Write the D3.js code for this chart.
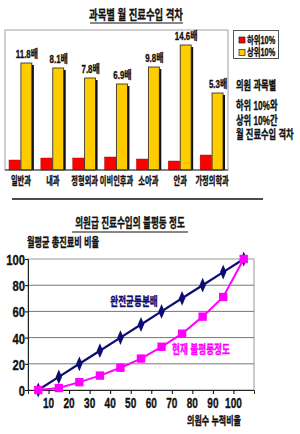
<!DOCTYPE html>
<html>
<head>
<meta charset="utf-8">
<script src="https://cdn.jsdelivr.net/npm/d3@7"></script>
<style>
  body { margin: 0; background: #fff; }
  svg { display: block; }
  text { font-family: "Liberation Sans", "Noto Sans CJK KR", sans-serif; font-weight: bold; fill: #111; }
</style>
</head>
<body>
<svg id="chart" width="300" height="434"></svg>
<script>
// 과목별 월 진료수입 (하위10% / 상위10%), relative heights
var categories = ["일반과", "내과", "정형외과", "이비인후과", "소아과", "안과", "가정의학과"];
var lower10 = [10, 12, 12, 13, 11, 9, 15];
var upper10 = [107, 102, 92, 86, 103, 125, 77];
var gapRatio = [11.8, 8.1, 7.8, 6.9, 9.8, 14.6, 5.3];
var seriesNames = ["하위10%", "상위10%"];
var seriesColors = ["#ff0000", "#ffcc00"];

// 의원급 진료수입의 불평등 정도
var cumDoctors = [5, 15, 25, 35, 45, 55, 65, 75, 85, 95, 105];
var equalShare = [0, 10, 20, 30, 40, 50, 60, 70, 80, 90, 100];
var currentShare = [0, 1.5, 6, 11, 17, 24, 33, 43, 56, 71, 100];
var xTicks = [10, 20, 30, 40, 50, 60, 70, 80, 90, 100];
var yTicks = [0, 20, 40, 60, 80, 100];

var svg = d3.select("#chart");

// text helper: condensed, heavy look via horizontal scale + thin stroke
function label(g, x, y, txt, size, anchor, sx, color) {
  return g.append("text")
    .attr("transform", "translate(" + x + "," + y + ") scale(" + (sx || 0.75) + ",1)")
    .attr("text-anchor", anchor || "start")
    .attr("dominant-baseline", "central")
    .style("font-size", size + "px")
    .style("fill", color || "#111")
    .style("stroke", color || "#111")
    .style("stroke-width", 0.35)
    .text(txt);
}

/* ---------- top: bar chart ---------- */
var barG = svg.append("g");
label(barG, 136, 14, "과목별 월 진료수입 격차", 13, "middle", 0.72);
barG.append("line").attr("x1", 90).attr("x2", 183).attr("y1", 23).attr("y2", 23)
  .attr("stroke", "#111").attr("stroke-width", 1.2);

var x0 = d3.scaleBand().domain(categories).range([5, 228]).paddingInner(0.25).paddingOuter(0.125);
var x1 = d3.scaleBand().domain(seriesNames).range([0, x0.bandwidth()]);
var y0 = d3.scaleLinear().domain([0, 140]).range([170, 30]);

barG.append("rect").attr("x", 5).attr("y", 30).attr("width", 223).attr("height", 140)
  .attr("fill", "#fff").attr("stroke", "#a0a0a0");

var groups = barG.selectAll(".grp").data(categories).enter().append("g")
  .attr("transform", function(d) { return "translate(" + x0(d) + ",0)"; });

// lower 10%
groups.append("rect")
  .attr("x", x1(seriesNames[0]))
  .attr("y", function(d, i) { return y0(lower10[i]); })
  .attr("width", x1.bandwidth() - 0.5)
  .attr("height", function(d, i) { return y0(0) - y0(lower10[i]); })
  .attr("fill", seriesColors[0]).attr("stroke", "#900").attr("stroke-width", 0.4);

// upper 10% with shadow
groups.append("rect")
  .attr("x", x1(seriesNames[1]) + 2)
  .attr("y", function(d, i) { return y0(upper10[i]) + 2; })
  .attr("width", x1.bandwidth() - 1)
  .attr("height", function(d, i) { return y0(0) - y0(upper10[i]) - 2; })
  .attr("fill", "#111");
groups.append("rect")
  .attr("x", x1(seriesNames[1]))
  .attr("y", function(d, i) { return y0(upper10[i]); })
  .attr("width", x1.bandwidth() - 1)
  .attr("height", function(d, i) { return y0(0) - y0(upper10[i]); })
  .attr("fill", seriesColors[1]).attr("stroke", "#222").attr("stroke-width", 0.8);

groups.each(function(d, i) {
  var g = d3.select(this);
  label(g, x1(seriesNames[1]) + x1.bandwidth() / 2, y0(upper10[i]) - 9, gapRatio[i] + "배", 11, "middle", 0.72);
  label(g, x0.bandwidth() / 2, 181, d, 11, "middle", 0.66);
});

barG.append("line").attr("x1", 5).attr("x2", 228).attr("y1", 170).attr("y2", 170)
  .attr("stroke", "#333").attr("stroke-width", 1);

// legend
var lg = barG.append("g");
lg.append("rect").attr("x", 233.5).attr("y", 30.5).attr("width", 45).attr("height", 28)
  .attr("fill", "#fff").attr("stroke", "#555");
seriesNames.forEach(function(s, i) {
  lg.append("rect").attr("x", 239).attr("y", 37 + i * 12.5).attr("width", 6).attr("height", 6)
    .attr("fill", seriesColors[i]).attr("stroke", "#222").attr("stroke-width", 0.7);
  label(lg, 247, 40.5 + i * 12.5, s, 10.5, "start", 0.7);
});

var note = ["의원 과목별", "하위 10%와", "상위 10%간", "월 진료수입 격차"];
var noteY = [85, 105, 120, 134];
note.forEach(function(t, i) { label(barG, 236, noteY[i], t, 12.5, "start", 0.66); });

svg.append("line").attr("x1", 12).attr("x2", 263).attr("y1", 199).attr("y2", 199)
  .attr("stroke", "#111").attr("stroke-width", 1.5);

/* ---------- bottom: inequality line chart ---------- */
var lineG = svg.append("g");
label(lineG, 130, 222, "의원급 진료수입의 불평등 정도", 13, "middle", 0.66);
lineG.append("line").attr("x1", 72).attr("x2", 188).attr("y1", 232).attr("y2", 232)
  .attr("stroke", "#111").attr("stroke-width", 1.2);
label(lineG, 27, 243, "월평균 총진료비 비율", 12, "start", 0.68);

var x = d3.scaleLinear().domain([0, 110]).range([28, 254]);
var y = d3.scaleLinear().domain([0, 100]).range([390, 259]);

// plot frame and grid
lineG.append("rect").attr("x", x(0)).attr("y", y(100)).attr("width", x(110) - x(0)).attr("height", y(0) - y(100))
  .attr("fill", "#fff").attr("stroke", "#999");
lineG.selectAll(".grid").data(yTicks.filter(function(t) { return t > 0 && t < 100; })).enter().append("line")
  .attr("x1", x(0)).attr("x2", x(110))
  .attr("y1", function(d) { return y(d); }).attr("y2", function(d) { return y(d); })
  .attr("stroke", "#777").attr("stroke-width", 1);

var yAxis = lineG.append("g").attr("transform", "translate(" + x(0) + ",0)")
  .call(d3.axisLeft(y).tickValues(yTicks).tickSize(3).tickFormat(""));
yAxis.select(".domain").attr("stroke", "#222");
yTicks.forEach(function(t) { label(lineG, 25, y(t) + 1, t, 15, "end", 0.75); });

var xAxis = lineG.append("g").attr("transform", "translate(0," + y(0) + ")")
  .call(d3.axisBottom(x).tickValues(xTicks).tickSize(4).tickFormat(""));
xAxis.select(".domain").attr("stroke", "#222");
xTicks.forEach(function(t) { label(lineG, x(t), 403, t, 14, "middle", 0.72); });

label(lineG, 214, 421, "의원수 누적비율", 11.5, "middle", 0.7);

var line = d3.line().x(function(d) { return x(d[0]); }).y(function(d) { return y(d[1]); });
var eqPts = d3.zip(cumDoctors, equalShare);
var curPts = d3.zip(cumDoctors, currentShare);

lineG.append("path").datum(eqPts).attr("d", line).attr("fill", "none")
  .attr("stroke", "#0c0c72").attr("stroke-width", 2.2);
lineG.append("path").datum(curPts).attr("d", line).attr("fill", "none")
  .attr("stroke", "#ff00ff").attr("stroke-width", 2);

lineG.selectAll(".dia").data(eqPts).enter().append("path")
  .attr("d", d3.symbol().type(d3.symbolDiamond).size(48))
  .attr("transform", function(d) { return "translate(" + x(d[0]) + "," + y(d[1]) + ") scale(0.85,1.15)"; })
  .attr("fill", "#0c0c72");
lineG.selectAll(".sq").data(curPts).enter().append("path")
  .attr("d", d3.symbol().type(d3.symbolSquare).size(70))
  .attr("transform", function(d) { return "translate(" + x(d[0]) + "," + y(d[1]) + ")"; })
  .attr("fill", "#ff00ff");

label(lineG, 134, 302, "완전균등분배", 12, "middle", 0.72, "#0c0c72");
label(lineG, 201, 350, "현재 불평등정도", 12, "middle", 0.72, "#ff00ff");
</script>
</body>
</html>
